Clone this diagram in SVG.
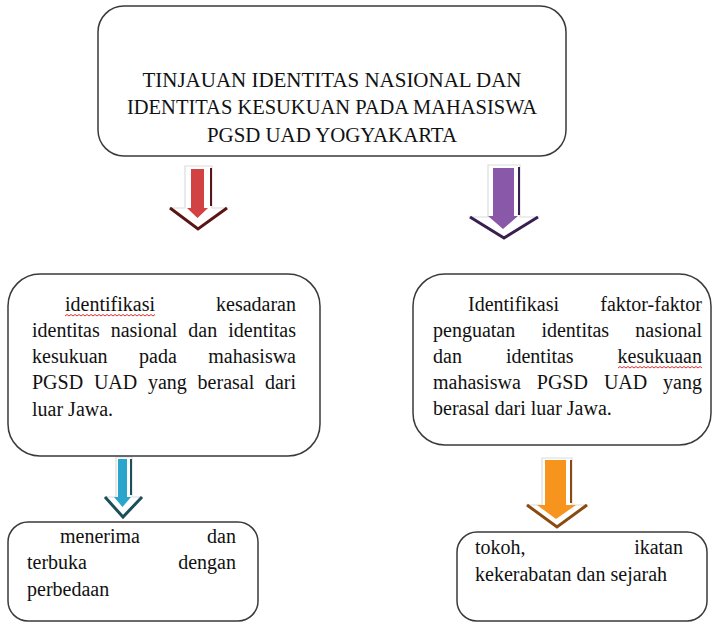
<svg xmlns="http://www.w3.org/2000/svg" width="713" height="624" viewBox="0 0 713 624">
<style>
.box{fill:#fff;stroke:#3a3a3a;stroke-width:1.5}
.t{font-family:'Liberation Serif','Times New Roman',serif;font-size:20px;fill:#111}
.h{font-family:'Liberation Serif','Times New Roman',serif;font-size:20px;fill:#111}
.e{text-anchor:end}
.m{text-anchor:middle}
.wave{fill:none;stroke:#e03030;stroke-width:1}
.aw{fill:#fff;stroke:#dcdcdc;stroke-width:1.2}
</style>
<rect width="713" height="624" fill="#fff"/>
<g id="title">
<rect class="box" x="98" y="6" width="468" height="150" rx="26"/>
<text class="h m" x="332" y="87" textLength="379" lengthAdjust="spacingAndGlyphs">TINJAUAN IDENTITAS NASIONAL DAN</text>
<text class="h m" x="332" y="114" textLength="410" lengthAdjust="spacingAndGlyphs">IDENTITAS KESUKUAN PADA MAHASISWA</text>
<text class="h m" x="332" y="142" textLength="250" lengthAdjust="spacingAndGlyphs">PGSD UAD YOGYAKARTA</text>
</g>
<g id="connectors">
<g id="arrow-red">
<path class="aw" d="M185,166 H212 V208 H227 L198,229 L170,208 H185 Z"/>
<path d="M211,168 V206" stroke="#5a1515" stroke-width="2" fill="none"/>
<path d="M170,208 L198,229 L227,208" stroke="#5a1515" stroke-width="3" fill="none"/>
<path d="M191,169 H204 V208 H208 L197.5,218 L187,208 H191 Z" fill="#d24242"/>
</g>
<g id="arrow-purple">
<path class="aw" d="M488,165 H520 V217 H538 L504,238 L470,217 H488 Z"/>
<path d="M519,167 V215" stroke="#3a1f4e" stroke-width="2" fill="none"/>
<path d="M470,217 L504,238 L538,217" stroke="#3a1f4e" stroke-width="3" fill="none"/>
<path d="M493,168 H514 V216 H518 L503,229 L488,216 H493 Z" fill="#8a58a8"/>
</g>
<g id="arrow-blue">
<path class="aw" d="M116,457 H132 V497 H142 L123,517 L105,497 H116 Z"/>
<path d="M131,459 V495" stroke="#1b4f5a" stroke-width="2" fill="none"/>
<path d="M105,497 L123,517 L142,497" stroke="#1b4f5a" stroke-width="3" fill="none"/>
<path d="M118,459 H127 V497 H131 L122.5,507 L114,497 H118 Z" fill="#2aa5cb"/>
</g>
<g id="arrow-orange">
<path class="aw" d="M542,458 H572 V505 H587 L557,527 L527,505 H542 Z"/>
<path d="M571,460 V503" stroke="#8a4a10" stroke-width="2" fill="none"/>
<path d="M527,505 L557,527 L587,505" stroke="#8a4a10" stroke-width="3" fill="none"/>
<path d="M545,460 H566 V505 H576 L556,519 L537,505 H545 Z" fill="#f7941d"/>
</g>
</g>
<g id="left-mid">
<rect class="box" x="8" y="274" width="312" height="182" rx="32"/>
<text class="t" x="65" y="311">identifikasi</text>
<text class="t e" x="296" y="311">kesadaran</text>
<path class="wave" d="M65,316 l2,-1.5 l2,1.5 l2,-1.5 l2,1.5 l2,-1.5 l2,1.5 l2,-1.5 l2,1.5 l2,-1.5 l2,1.5 l2,-1.5 l2,1.5 l2,-1.5 l2,1.5 l2,-1.5 l2,1.5 l2,-1.5 l2,1.5 l2,-1.5 l2,1.5 l2,-1.5 l2,1.5 l2,-1.5 l2,1.5 l2,-1.5 l2,1.5 l2,-1.5 l2,1.5 l2,-1.5 l2,1.5 l2,-1.5 l2,1.5 l2,-1.5 l2,1.5 l2,-1.5 l2,1.5 l2,-1.5 l2,1.5 l2,-1.5 l2,1.5 l2,-1.5 l2,1.5 l2,-1.5 l2,1.5 l2,-1.5"/>
<text class="t" x="32" y="337">identitas</text>
<text class="t" x="110.7" y="337">nasional</text>
<text class="t" x="188.3" y="337">dan</text>
<text class="t e" x="296" y="337">identitas</text>
<text class="t" x="32" y="363">kesukuan</text>
<text class="t" x="139" y="363">pada</text>
<text class="t e" x="296" y="363">mahasiswa</text>
<text class="t" x="32" y="389">PGSD</text>
<text class="t" x="93.9" y="389">UAD</text>
<text class="t" x="147.9" y="389">yang</text>
<text class="t" x="197.6" y="389">berasal</text>
<text class="t e" x="296" y="389">dari</text>
<text class="t" x="32" y="416">luar Jawa.</text>
</g>
<g id="right-mid">
<rect class="box" x="413" y="274" width="298" height="171" rx="32"/>
<text class="t" x="468" y="311">Identifikasi</text>
<text class="t e" x="702" y="311">faktor-faktor</text>
<text class="t" x="433" y="337">penguatan</text>
<text class="t" x="541.4" y="337">identitas</text>
<text class="t e" x="702" y="337">nasional</text>
<text class="t" x="433" y="363">dan</text>
<text class="t" x="505.9" y="363">identitas</text>
<text class="t e" x="702" y="363">kesukuaan</text>
<path class="wave" d="M618,368 l2,-1.5 l2,1.5 l2,-1.5 l2,1.5 l2,-1.5 l2,1.5 l2,-1.5 l2,1.5 l2,-1.5 l2,1.5 l2,-1.5 l2,1.5 l2,-1.5 l2,1.5 l2,-1.5 l2,1.5 l2,-1.5 l2,1.5 l2,-1.5 l2,1.5 l2,-1.5 l2,1.5 l2,-1.5 l2,1.5 l2,-1.5 l2,1.5 l2,-1.5 l2,1.5 l2,-1.5 l2,1.5 l2,-1.5 l2,1.5 l2,-1.5 l2,1.5 l2,-1.5 l2,1.5 l2,-1.5 l2,1.5 l2,-1.5 l2,1.5 l2,-1.5 l2,1.5"/>
<text class="t" x="433" y="389">mahasiswa</text>
<text class="t" x="536.8" y="389">PGSD</text>
<text class="t" x="603.9" y="389">UAD</text>
<text class="t e" x="702" y="389">yang</text>
<text class="t" x="433" y="415">berasal dari luar Jawa.</text>
</g>
<g id="left-bottom">
<rect class="box" x="8" y="522" width="250" height="99" rx="20"/>
<text class="t" x="60" y="543">menerima</text>
<text class="t e" x="236" y="543">dan</text>
<text class="t" x="27" y="569">terbuka</text>
<text class="t e" x="236" y="569">dengan</text>
<text class="t" x="27" y="596">perbedaan</text>
</g>
<g id="right-bottom">
<rect class="box" x="457" y="532" width="250" height="89" rx="20"/>
<text class="t" x="475" y="554">tokoh,</text>
<text class="t e" x="683" y="554">ikatan</text>
<text class="t" x="475" y="581">kekerabatan dan sejarah</text>
</g>
</svg>
